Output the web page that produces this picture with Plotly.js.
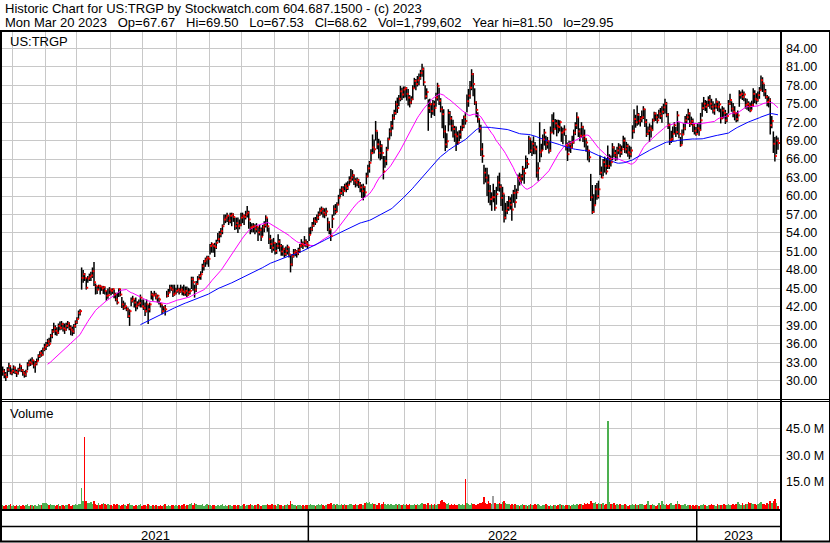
<!DOCTYPE html>
<html><head><meta charset="utf-8">
<script src="https://cdn.plot.ly/plotly-3.0.1.min.js"></script>
<style>html,body{margin:0;padding:0;background:#fff;}#chart{width:830px;height:543px;}</style>
</head><body><div id="chart"></div>
<script>
// ---------- data ----------
const firstDate = '2021-03-23';
const holidays = ['2021-04-02','2021-05-31','2021-07-05','2021-09-06','2021-11-25','2021-12-24',
  '2022-01-17','2022-02-21','2022-04-15','2022-05-30','2022-06-20','2022-07-04','2022-09-05',
  '2022-11-24','2022-12-26','2023-01-02','2023-01-16','2023-02-20'];

const closes = [
31.5,31.0,30.6,31.8,32.4,31.3,31.6,
32.1,31.4,31.2,31.8,32.4,31.7,31.3,31.0,31.5,32.6,33.0,32.8,33.3,32.5,32.8,33.2,34.0,34.5,34.2,35.1,35.5,
35.8,36.4,36.0,37.3,38.0,38.6,38.1,37.8,38.9,38.6,39.2,38.5,38.3,38.9,39.3,38.6,38.3,38.0,38.9,39.5,
40.0,41.0,41.3,46.7,47.3,46.7,45.1,46.6,46.9,47.1,47.8,46.0,45.4,44.8,45.4,45.3,45.0,45.2,44.6,43.8,43.9,44.8,
44.6,44.9,44.0,43.2,42.7,44.9,44.0,42.4,41.9,42.1,41.6,40.5,41.3,43.0,43.3,42.7,42.1,42.4,42.6,43.5,42.1,
41.8,41.3,42.4,41.6,42.4,44.0,43.8,44.0,43.5,43.8,43.2,42.4,41.3,41.9,41.6,43.8,44.3,45.1,44.8,44.0,44.2,44.6,
44.8,44.5,44.8,44.5,44.3,44.6,44.0,44.4,44.6,46.5,46.0,44.8,45.7,46.5,47.0,47.3,48.6,49.4,49.7,50.0,49.8,
51.9,52.2,51.9,51.7,52.4,53.0,53.8,54.3,55.1,56.2,56.5,56.8,56.0,56.8,57.0,56.6,55.1,55.6,55.1,55.3,56.5,
56.8,56.6,57.0,57.3,56.2,54.9,55.0,55.1,54.6,55.0,54.1,54.5,53.4,54.9,55.3,56.5,55.1,53.0,52.2,51.6,52.4,
51.1,51.9,52.6,51.9,51.0,51.4,50.6,51.1,51.7,50.5,48.9,50.2,50.8,51.0,50.7,51.2,51.9,52.2,52.0,52.6,52.3,52.0,
53.7,54.6,55.2,56.0,55.8,56.5,57.0,57.6,57.9,57.3,57.0,57.5,55.7,54.6,53.5,56.3,57.9,57.4,58.6,59.7,
60.5,61.1,60.8,61.6,61.3,61.8,62.6,63.0,63.4,62.5,62.2,62.6,61.9,61.4,60.8,61.5,60.6,63.2,64.5,
65.4,67.0,67.9,67.6,70.6,68.4,67.0,68.1,67.0,64.0,65.7,67.5,69.2,70.5,71.4,72.7,73.5,74.9,74.3,75.8,77.0,76.5,77.3,
77.5,76.6,76.0,75.2,75.7,77.5,78.7,78.2,78.8,79.2,80.0,80.6,78.5,76.2,76.9,74.3,74.9,73.8,74.9,74.3,
76.0,77.9,75.5,74.1,73.3,70.5,68.4,68.9,73.5,72.6,71.4,70.9,70.0,69.7,68.7,70.0,70.8,71.4,72.8,72.2,75.4,
76.3,77.6,79.8,78.2,75.2,74.0,72.5,71.0,67.6,66.5,63.8,63.0,62.2,60.8,59.5,59.8,59.8,58.1,60.3,62.2,61.5,
59.7,60.4,56.5,57.6,58.1,59.2,58.6,57.8,60.5,59.0,60.6,63.0,62.5,63.2,64.4,63.7,65.7,65.2,69.3,67.4,
68.5,67.9,67.6,63.8,64.5,67.1,67.4,69.2,70.3,68.4,68.9,67.4,70.3,72.2,70.9,71.8,71.4,71.2,72.0,70.3,70.5,70.8,68.2,
66.8,68.4,67.9,68.7,70.3,71.5,72.8,70.5,69.8,71.2,69.8,69.3,68.7,67.4,66.3,59.8,57.4,58.5,61.1,60.0,61.1,
63.8,63.0,65.5,64.9,64.0,64.9,66.0,65.5,67.9,67.0,66.6,67.4,67.9,67.1,67.6,69.0,67.6,68.1,67.1,66.8,67.4,
70.6,72.5,72.0,73.2,72.2,72.6,72.8,74.1,72.0,70.1,70.6,71.0,70.7,72.3,73.4,72.8,72.3,73.4,73.0,73.7,74.4,
75.0,73.2,71.5,69.1,69.3,70.1,71.5,70.4,73.1,70.1,68.3,70.0,71.0,72.3,72.8,73.4,71.8,72.2,71.5,70.6,70.1,
71.0,70.7,72.3,74.3,75.0,74.5,74.8,75.6,75.0,74.5,73.9,74.6,75.3,74.5,74.9,72.6,73.9,73.5,72.3,73.0,
75.0,75.6,74.2,73.7,73.4,72.5,73.1,76.4,76.6,76.1,76.5,74.8,75.0,74.6,73.9,74.8,76.6,75.8,75.6,
76.4,77.2,78.8,78.3,77.0,76.1,75.3,75.6,71.5,72.2,68.5,66.5,69.0,68.62];

const highs = [
32.3,31.9,31.4,32.2,32.9,32.5,32.0,
32.5,32.3,31.8,32.1,32.8,32.5,31.9,31.6,31.8,33.0,33.4,33.6,33.8,33.4,33.2,33.6,34.3,34.8,35.0,35.4,36.0,
36.3,36.8,37.0,37.6,38.4,39.4,39.0,38.7,39.3,39.6,39.7,39.4,39.3,39.4,39.7,39.5,39.0,38.8,39.2,39.8,
40.3,41.4,41.6,48.4,48.0,47.5,46.7,47.0,47.4,47.7,48.4,49.3,45.8,45.4,45.6,45.6,45.4,45.4,45.3,44.6,45.0,45.2,
45.0,45.0,44.8,44.3,44.3,45.0,44.9,43.6,43.0,42.7,42.1,41.9,41.6,43.5,43.8,43.2,43.5,42.9,43.2,44.0,43.2,
43.2,42.7,43.2,42.4,42.7,44.6,44.3,44.6,44.3,44.0,43.5,42.7,42.4,42.1,42.3,44.6,44.9,45.6,45.6,45.6,45.6,45.1,
45.6,45.1,45.6,45.3,45.6,45.3,45.3,45.1,45.0,46.9,46.9,45.6,46.2,47.0,47.3,47.8,49.0,49.6,50.0,50.3,50.3,
52.2,52.5,52.2,52.4,52.9,54.0,54.3,54.8,55.4,57.0,57.0,57.3,56.8,57.3,57.3,57.2,56.5,56.5,56.5,56.2,57.3,
57.3,57.0,57.6,58.4,57.6,55.8,55.6,55.6,55.4,55.6,55.0,55.3,54.9,55.3,55.9,56.9,56.4,54.9,53.7,53.0,53.2,
52.5,52.4,53.8,53.0,52.2,52.0,51.6,51.8,52.1,51.7,50.4,50.6,51.4,51.4,51.2,51.6,52.2,53.0,52.6,53.5,53.0,52.7,
54.9,55.0,55.8,56.5,56.6,57.0,57.5,58.1,58.3,58.1,58.0,58.1,56.5,55.9,54.6,57.0,58.5,58.7,59.0,60.2,
61.2,61.6,61.6,62.0,62.2,62.4,63.2,64.4,64.2,63.5,62.9,63.0,62.8,62.3,61.9,62.0,61.6,63.8,65.1,
65.7,67.6,70.0,69.2,72.2,70.5,69.3,69.0,68.4,66.5,66.5,68.0,69.5,71.0,72.2,73.3,74.0,75.5,76.0,76.4,77.9,77.6,77.8,
77.8,77.7,77.4,76.4,76.2,78.0,79.2,79.0,79.5,79.9,80.5,81.5,80.9,78.0,77.5,75.7,75.8,75.1,75.6,75.5,
76.8,78.4,77.6,75.9,74.6,74.1,71.5,70.2,74.1,73.8,73.0,72.4,71.4,71.3,70.5,70.7,71.4,72.5,73.1,73.6,76.5,
77.4,78.7,80.6,80.0,77.5,75.4,73.6,72.6,71.6,68.6,65.1,64.6,64.6,63.5,61.8,60.6,62.0,61.0,61.5,63.3,63.8,
61.9,61.5,60.3,58.9,59.2,60.0,59.8,60.3,61.0,61.8,61.2,63.5,63.8,63.6,64.9,64.6,66.6,66.2,69.8,69.5,
69.0,69.7,68.8,68.2,65.5,72.0,68.5,70.0,70.9,69.8,69.6,69.0,71.3,73.3,73.6,72.5,72.4,72.4,72.3,71.3,71.1,71.5,69.9,
68.7,69.0,68.9,69.8,70.8,72.0,73.6,72.8,71.0,72.0,71.4,70.8,69.4,68.2,67.5,63.6,61.8,60.3,61.8,62.1,62.5,
66.6,64.8,66.0,66.4,66.2,68.2,66.8,66.6,68.6,68.1,67.5,68.0,68.6,68.4,68.2,69.8,69.5,68.8,68.5,68.2,68.0,
71.5,74.1,73.2,74.7,73.5,73.0,73.9,74.6,74.2,72.5,71.3,71.8,71.5,72.6,73.7,73.6,73.3,74.0,74.3,74.6,75.0,
75.8,75.3,73.5,71.8,70.6,71.3,72.0,71.2,73.8,72.0,69.6,70.8,71.8,73.0,73.3,74.2,73.6,72.9,72.6,71.8,71.2,
71.8,72.0,73.5,75.2,76.1,75.6,75.5,76.2,76.4,75.8,75.4,75.0,75.9,75.5,75.4,74.2,74.6,74.4,74.0,73.5,
75.6,76.6,75.4,75.1,74.6,73.6,73.9,77.2,77.0,77.3,77.0,75.9,75.8,75.4,75.2,75.5,77.5,77.2,76.7,
77.0,77.7,79.6,79.3,78.2,77.4,76.4,76.2,75.9,73.0,70.5,69.6,69.8,69.5];

const lows = [
30.8,30.4,29.95,30.5,31.4,31.0,30.9,
31.2,31.1,30.6,31.0,31.5,31.4,30.8,30.5,30.6,31.7,32.3,32.4,32.6,32.0,31.3,32.5,33.2,33.7,33.9,34.1,34.8,
35.0,35.5,35.6,36.2,36.9,37.8,37.4,37.3,37.6,38.2,38.3,38.0,37.6,38.1,38.5,38.2,37.4,37.3,37.6,38.6,
39.2,40.0,40.6,44.8,45.9,46.2,44.8,45.9,46.2,46.2,46.7,45.4,44.0,44.1,44.8,44.0,44.6,44.1,44.0,43.0,43.3,44.1,
43.9,44.1,43.4,42.9,42.4,43.6,43.7,41.8,41.5,41.6,41.3,40.2,38.9,42.1,42.7,41.9,41.3,41.6,42.1,41.9,41.9,
41.5,40.5,41.1,39.2,41.1,43.2,43.0,43.8,43.2,42.7,42.4,41.9,40.8,41.1,40.6,43.5,43.6,44.3,44.6,43.6,43.8,44.0,
44.3,44.0,44.3,43.9,43.8,43.8,43.6,43.8,44.0,44.9,44.6,43.5,44.4,45.6,46.5,46.4,47.5,47.9,48.5,48.9,48.5,
50.5,50.8,50.8,50.1,51.4,52.6,52.4,53.3,53.8,55.3,55.6,55.8,55.3,55.6,55.1,55.8,54.5,54.6,54.0,54.6,55.1,
55.6,55.3,56.2,56.5,54.7,53.8,54.1,54.1,53.8,54.1,52.7,53.6,52.7,53.5,54.1,54.9,54.2,52.2,51.4,50.8,51.1,
50.5,50.6,51.4,51.0,50.3,50.3,50.0,50.2,50.5,50.0,47.6,48.6,50.0,50.2,50.0,50.4,50.8,51.6,51.4,51.8,51.7,51.4,
52.7,53.8,54.3,55.0,55.3,55.7,56.1,56.8,57.0,56.5,56.4,56.7,54.3,53.8,52.7,54.8,56.8,57.0,57.4,58.5,
59.8,60.2,60.0,60.8,60.6,61.0,61.8,62.2,62.5,61.8,61.4,61.6,61.3,60.6,59.7,59.3,59.8,61.9,63.0,
63.8,65.6,66.8,66.9,69.0,67.6,66.1,65.8,66.0,62.7,64.6,65.0,67.6,69.2,69.7,70.8,72.4,73.2,73.5,74.6,75.4,75.6,75.9,
76.0,75.5,74.7,74.4,74.9,75.6,77.5,77.2,77.8,78.0,78.9,79.4,77.9,75.7,75.8,70.6,73.5,72.7,73.2,73.0,
74.5,75.5,74.8,73.6,71.0,69.4,67.3,67.8,70.5,71.5,70.5,69.5,68.8,67.3,68.3,68.9,69.3,70.6,71.0,71.6,73.6,
74.5,75.8,77.2,76.2,74.8,72.8,71.9,70.3,66.5,65.4,61.9,62.2,60.0,58.9,58.5,57.6,59.0,57.6,58.6,60.8,60.7,
58.4,57.6,55.7,56.2,57.1,57.6,57.8,56.0,58.9,58.1,59.5,60.8,61.7,62.0,62.5,62.0,64.4,64.5,66.8,67.0,
66.5,66.8,66.8,63.0,62.5,65.5,66.3,67.5,68.2,67.5,67.7,66.9,67.2,70.3,70.0,70.8,69.7,70.2,70.5,68.8,68.4,69.8,67.4,
65.7,67.2,67.0,67.8,68.5,69.9,70.9,69.6,68.9,69.5,68.8,67.9,67.2,65.8,65.5,59.2,57.1,57.3,58.6,59.4,59.6,
63.4,62.9,63.2,63.8,63.5,64.4,64.4,64.8,65.8,66.3,65.7,65.8,66.8,66.3,66.7,67.8,67.0,66.9,66.4,66.0,66.3,
69.3,70.2,71.1,71.4,71.6,71.3,72.0,72.5,71.2,69.6,69.9,68.8,69.5,70.6,72.1,72.2,71.8,72.6,72.5,71.9,73.3,
73.4,72.8,70.9,68.3,68.6,69.0,70.1,69.6,70.0,69.4,68.0,68.4,69.9,70.7,71.8,72.3,71.2,71.5,70.4,70.0,69.8,
70.2,69.8,70.6,72.9,74.0,73.8,73.5,74.5,74.2,74.0,73.4,73.2,74.2,73.8,73.6,71.8,72.5,72.6,71.7,72.0,
73.4,74.8,73.7,72.8,72.3,72.0,72.1,74.5,75.8,75.6,75.4,74.2,74.0,73.8,73.6,74.0,74.5,75.1,74.9,
75.3,75.8,77.2,76.9,76.2,75.8,74.6,74.4,70.0,71.0,67.0,65.6,66.8,67.53];

const volumesM = [
2.4,1.8,2.2,1.7,2.0,2.6,1.9,
2.0,1.7,2.2,1.8,2.4,1.7,2.0,1.9,2.2,2.6,1.9,2.0,2.4,1.7,2.2,1.9,2.8,2.0,2.4,3.5,3.1,
3.3,2.6,2.2,2.9,2.0,2.4,1.9,2.2,2.6,1.7,2.0,2.4,1.8,2.2,2.0,2.8,1.9,2.4,2.0,3.0,
2.2,2.6,3.0,11.5,4.6,40.2,4.2,3.1,3.4,3.8,2.8,4.4,3.0,2.4,3.2,2.2,2.6,3.6,2.8,2.4,3.0,2.0,
2.4,1.8,2.8,2.2,2.6,2.0,1.7,2.4,3.0,2.2,1.9,2.6,3.3,2.0,2.4,1.7,2.2,1.8,2.0,2.6,1.7,
2.0,2.4,1.8,2.8,2.2,1.7,2.0,1.8,2.4,1.5,1.8,2.2,1.7,2.0,2.6,1.8,2.2,1.7,2.0,2.4,1.8,2.0,
1.7,2.2,1.8,2.0,2.6,1.8,2.0,2.4,2.8,3.1,2.4,3.6,2.6,2.2,2.0,2.4,2.8,1.8,2.2,2.6,2.0,
2.4,1.8,2.2,2.0,1.7,2.4,1.8,2.0,2.6,1.7,2.2,1.8,2.0,2.4,1.8,2.2,2.0,1.7,2.4,2.0,1.8,
2.2,2.6,1.8,2.0,2.4,2.8,2.2,1.8,2.4,2.0,2.6,2.2,1.8,2.4,2.0,2.2,2.8,2.4,2.0,2.9,2.2,
2.4,1.8,2.6,2.0,2.2,1.8,2.4,2.0,2.6,2.4,4.6,2.8,2.0,2.2,1.8,2.4,2.0,1.7,2.2,1.8,2.4,2.0,
2.2,2.6,2.0,2.4,1.8,2.2,2.8,2.0,2.6,2.2,1.8,2.4,3.0,2.6,3.2,2.4,2.8,2.2,2.6,2.0,
2.4,2.8,2.0,2.6,2.2,2.4,3.0,2.6,2.0,2.2,2.8,2.4,2.0,2.6,3.0,2.4,3.6,4.0,3.2,
3.8,3.0,3.4,2.6,2.8,2.4,3.2,2.2,2.6,3.8,2.8,2.4,3.0,2.2,2.6,2.0,2.4,2.8,2.2,2.6,2.0,2.4,3.0,
2.2,2.6,2.0,2.8,2.4,2.2,3.0,2.0,2.6,2.4,2.8,3.2,2.6,3.0,2.2,3.4,2.4,2.8,2.0,2.6,
2.4,3.0,2.6,4.2,4.8,4.0,3.6,2.8,3.2,2.4,2.6,2.2,3.0,2.4,2.0,2.6,2.2,2.8,2.4,16.7,3.6,
2.8,2.4,3.2,2.6,3.0,2.4,2.8,3.6,3.2,4.0,6.7,3.4,3.0,4.4,3.2,2.8,7.4,3.6,3.0,2.6,3.2,
2.8,3.8,4.5,3.2,2.6,3.0,2.4,2.8,2.2,2.6,2.0,2.4,1.8,2.2,2.6,2.0,2.4,1.8,2.2,2.8,
2.4,2.0,2.6,2.2,2.8,2.4,1.8,2.2,2.0,2.6,2.4,1.7,2.2,1.8,2.0,2.4,1.8,2.2,2.6,2.0,2.4,1.8,2.2,
2.0,2.4,1.8,2.2,2.6,2.0,2.8,2.4,3.0,2.6,2.2,3.2,2.8,3.4,3.0,4.2,3.6,3.2,3.8,2.8,3.2,
3.0,2.6,3.2,2.4,2.8,49.1,3.8,3.0,2.6,3.2,2.4,2.8,2.2,2.6,2.0,2.4,2.8,2.2,1.8,2.4,2.0,
2.6,2.2,2.8,2.4,2.0,2.6,3.0,2.2,2.4,2.8,4.2,2.4,2.0,2.6,2.2,1.8,2.4,3.2,2.2,4.6,2.6,
2.4,2.8,2.2,2.6,3.2,2.4,2.0,2.8,4.6,2.6,2.2,2.4,2.0,2.6,1.8,2.2,2.4,1.7,2.0,1.8,2.2,
2.2,1.8,2.4,2.0,2.6,2.2,1.8,2.4,2.0,2.8,2.2,2.4,1.8,2.6,2.0,2.4,2.2,2.8,2.0,2.4,
2.6,2.0,2.4,3.0,2.2,2.6,3.8,2.8,2.4,3.2,2.2,2.6,3.0,4.0,3.2,3.6,2.6,3.0,2.4,
2.8,3.2,3.8,2.6,3.0,2.4,3.4,2.8,4.6,3.2,4.4,5.6,3.6,1.8];

const priceTicks = [30,33,36,39,42,45,48,51,54,57,60,63,66,69,72,75,78,81,84];
const volumeTicks = [15,30,45];
const headerLine1 = 'Historic Chart for US:TRGP by Stockwatch.com 604.687.1500 - (c) 2023';
const headerFields = ['Mon Mar 20 2023','Op=67.67','Hi=69.50','Lo=67.53','Cl=68.62','Vol=1,799,602','Year hi=81.50','lo=29.95'];
const symbolLabel = 'US:TRGP';
const volumeLabel = 'Volume';
const maShortLen = 30, maLongLen = 90;

// ---------- derived ----------
const N = closes.length;
const hol = new Set(holidays);
const dates = [];
{ let d = new Date(firstDate + 'T00:00:00Z');
  while (dates.length < N) {
    const wd = d.getUTCDay(), s = d.toISOString().slice(0,10);
    if (wd !== 0 && wd !== 6 && !hol.has(s)) dates.push(s);
    d.setUTCDate(d.getUTCDate() + 1);
  } }
const idx = closes.map((_, i) => i);
const monthGrid = [], yearBounds = [];
for (let i = 1; i < N; i++) {
  if (dates[i].slice(0,7) !== dates[i-1].slice(0,7)) monthGrid.push(i - 0.5);
  if (dates[i].slice(0,4) !== dates[i-1].slice(0,4)) yearBounds.push(i - 0.5);
}
function sma(arr, n) {
  return arr.map((v, i) => {
    if (i < n - 1) return null;
    let s = 0; for (let k = i - n + 1; k <= i; k++) s += arr[k];
    return s / n;
  });
}
const stemX = [], stemY = [];
for (let i = 0; i < N; i++) { stemX.push(i, i, null); stemY.push(lows[i], highs[i], null); }
const volColors = closes.map((c, i) => i === 0 ? '#4cb050' : (c > closes[i-1] ? '#4cb050' : (c < closes[i-1] ? '#ff0000' : '#a0a0a0')));

// ---------- geometry ----------
const W = 830, H = 543, PL = 2, PR = 780, PT = 32, PB = 509;
const px = p => (p - PL) / (PR - PL);
const py = p => (PB - p) / (PB - PT);
const xRange = [-0.45, N + 0.3];

const FONT = 'Liberation Sans, Arial, sans-serif';
const GRID = '#c8c8c8';

const traces = [
  {type:'scatter', mode:'lines', x: stemX, y: stemY, line:{color:'#000', width:1.5}, hoverinfo:'skip', xaxis:'x', yaxis:'y'},
  {type:'scatter', mode:'lines', x: idx, y: sma(closes, maShortLen), line:{color:'#ff00ff', width:1}, hoverinfo:'skip', connectgaps:false},
  {type:'scatter', mode:'lines', x: idx, y: sma(closes, maLongLen), line:{color:'#0000ff', width:1}, hoverinfo:'skip', connectgaps:false},
  {type:'scatter', mode:'markers', x: idx.map(i => i + 0.65), y: closes, marker:{symbol:'square', size:1.9, color:'#ff0000', line:{width:0}}, hoverinfo:'skip'},
  {type:'bar', x: idx, y: volumesM, marker:{color: volColors, line:{width:0}}, width:1.0, xaxis:'x2', yaxis:'y2', hoverinfo:'skip'}
];

const blk = (x0, y0, x1, y1, w) => ({type:'line', xref:'paper', yref:'paper', x0:px(x0), y0:py(y0), x1:px(x1), y1:py(y1), line:{color:'#000', width:w||1}, layer:'above'});
const shapes = [
  blk(0, 31, 830, 31, 2),
  blk(1, 30, 1, 542, 2),
  blk(781, 30, 781, 542, 2),
  blk(829.5, 30, 829.5, 542, 1),
  blk(0, 399.5, 830, 399.5, 1),
  blk(0, 401.5, 830, 401.5, 1),
  blk(0, 510, 781, 510, 2),
  blk(0, 526.5, 781, 526.5, 1.5),
  blk(0, 541.5, 830, 541.5, 2)
];
yearBounds.forEach(b => shapes.push({type:'line', xref:'x', yref:'paper', x0:b, x1:b, y0:py(510), y1:py(542), line:{color:'#000', width:1.5}, layer:'above'}));

const nb = '\u00a0';
const headerLine2 = headerFields[0] + nb + nb + nb + headerFields.slice(1).join(nb + nb + nb);
const ann = (text, xp, yp, size) => ({text, xref:'paper', yref:'paper', x:px(xp), y:py(yp), xanchor:'left', yanchor:'middle', showarrow:false, font:{family:FONT, size:size||13, color:'#000'}});
const annotations = [
  ann(headerLine1, 3, 8.5),
  ann(headerLine2, 3, 22),
  ann(symbolLabel, 8, 41),
  ann(volumeLabel, 8, 413)
];
const edges = [xRange[0]].concat(yearBounds, [xRange[1]]);
for (let k = 0; k < edges.length - 1; k++) {
  const mid = (edges[k] + edges[k+1]) / 2;
  const i = Math.min(N - 1, Math.max(0, Math.round(mid)));
  annotations.push({text: dates[i].slice(0,4), xref:'x', yref:'paper', x: mid, y: py(535), xanchor:'center', yanchor:'middle', showarrow:false, font:{family:FONT, size:13, color:'#000'}});
}

const layout = {
  width: W, height: H,
  margin: {l: PL, r: W - PR, t: PT, b: H - PB, pad: 0},
  paper_bgcolor: '#fff', plot_bgcolor: '#fff',
  showlegend: false, bargap: 0,
  font: {family: FONT, color: '#000', size: 12},
  xaxis: {range: xRange, tickvals: monthGrid, showticklabels: false, ticks: '', showgrid: true, gridcolor: GRID, gridwidth: 1, zeroline: false, showline: false, anchor: 'y'},
  xaxis2: {range: xRange, matches: 'x', tickvals: monthGrid, showticklabels: false, ticks: '', showgrid: true, gridcolor: GRID, gridwidth: 1, zeroline: false, showline: false, anchor: 'y2'},
  yaxis: {domain: [py(399), 1], range: [27.03, 86.65], side: 'right', tickvals: priceTicks, ticktext: priceTicks.map(v => v.toFixed(2)),
          ticks: '', ticklabelstandoff: 5, tickfont: {family: FONT, size: 12.5, color: '#000'}, showgrid: true, gridcolor: GRID, zeroline: false, showline: false},
  yaxis2: {domain: [0, py(402)], range: [0, 59.7], side: 'right', tickvals: volumeTicks, ticktext: volumeTicks.map(v => v.toFixed(1) + ' M'),
          ticks: '', ticklabelstandoff: 5, tickfont: {family: FONT, size: 12.5, color: '#000'}, showgrid: true, gridcolor: GRID, zeroline: false, showline: false},
  shapes, annotations
};

Plotly.newPlot('chart', traces, layout, {staticPlot: true, displayModeBar: false});
</script>
</body></html>
